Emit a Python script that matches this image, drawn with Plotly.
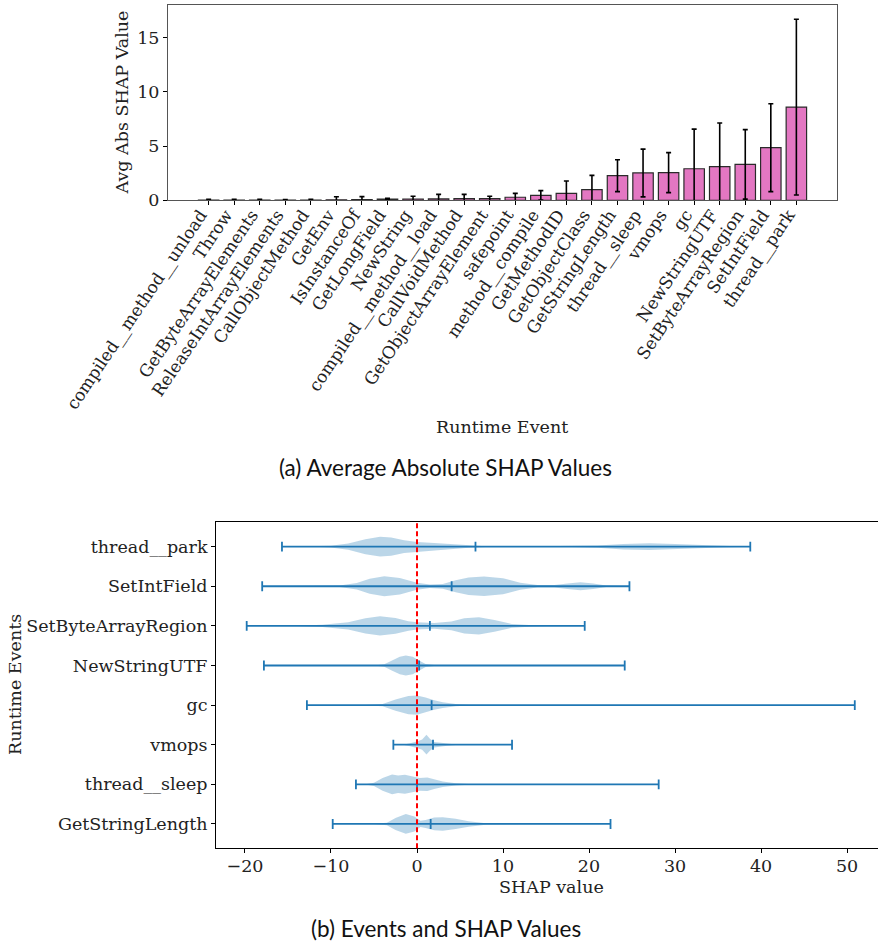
import plotly.graph_objects as go

# ---------------- (a) bar chart data ----------------
bar_events = ["compiled__method__unload", "Throw", "GetByteArrayElements", "ReleaseIntArrayElements",
              "CallObjectMethod", "GetEnv", "IsInstanceOf", "GetLongField", "NewString",
              "compiled__method__load", "CallVoidMethod", "GetObjectArrayElement", "safepoint",
              "method__compile", "GetMethodID", "GetObjectClass", "GetStringLength", "thread__sleep",
              "vmops", "gc", "NewStringUTF", "SetByteArrayRegion", "SetIntField", "thread__park"]
bar_means = [0.01, 0.01, 0.01, 0.02, 0.02, 0.05, 0.07, 0.10, 0.12, 0.13, 0.15, 0.15, 0.28,
             0.46, 0.64, 0.98, 2.27, 2.52, 2.55, 2.91, 3.10, 3.31, 4.85, 8.59]
bar_stds = [0.08, 0.08, 0.08, 0.05, 0.08, 0.28, 0.27, 0.08, 0.25, 0.42, 0.40, 0.22, 0.36,
            0.43, 1.14, 1.32, 1.47, 2.20, 1.84, 3.65, 4.02, 3.20, 4.05, 8.10]
bar_yticks = [0, 5, 10, 15]

# ---------------- (b) violin data ----------------
vio_events = ["GetStringLength", "thread__sleep", "vmops", "gc",
              "NewStringUTF", "SetByteArrayRegion", "SetIntField", "thread__park"]
vio_min = [-9.8, -7.1, -2.75, -12.8, -17.8, -19.8, -18.0, -15.7]
vio_max = [22.5, 28.1, 11.05, 50.9, 24.15, 19.5, 24.7, 38.75]
vio_mean = [1.59, 0.0, 1.86, 1.7, 0.25, 1.5, 4.03, 6.8]
vio_xticks = [-20, -10, 0, 10, 20, 30, 40, 50]

# density outlines (x, relative half-width 0..1)
getstringlength_x = [-9.8, -5, -3.5, -2.5, -1.3, -0.3, 0.4, 1, 2, 3, 4.5, 6, 8, 10, 22.5]
getstringlength_w = [0.0, 0.012, 0.12, 0.6, 1.0, 0.76, 0.32, 0.4, 0.64, 0.68, 0.52, 0.28, 0.08, 0.02, 0.0]
thread_sleep_x = [-7.1, -6, -5, -4, -2.9, -2.2, -1.4, -0.5, 0.3, 1.2, 2, 3, 4.5, 6, 9, 28.1]
thread_sleep_w = [0.0, 0.02, 0.16, 0.64, 1.0, 0.88, 0.96, 0.8, 0.64, 0.68, 0.48, 0.28, 0.12, 0.04, 0.012, 0.0]
vmops_x = [-2.75, -1.5, -0.8, 0, 0.6, 1.1, 1.5, 2, 2.8, 3.5, 4.5, 11.05]
vmops_w = [0.0, 0.02, 0.16, 0.32, 0.52, 1.0, 0.6, 0.28, 0.2, 0.1, 0.02, 0.0]
gc_x = [-12.8, -6, -4, -2.5, -1, 0, 1, 2, 3, 4.5, 6, 10, 50.9]
gc_w = [0.0, 0.008, 0.12, 0.56, 0.92, 0.98, 0.76, 0.48, 0.28, 0.12, 0.04, 0.008, 0.0]
newstringutf_x = [-17.8, -5, -3.8, -3, -2, -1.3, -0.5, 0.3, 1, 2, 4, 24.15]
newstringutf_w = [0.0, 0.008, 0.12, 0.48, 0.88, 1.0, 0.88, 0.48, 0.16, 0.04, 0.012, 0.0]
setbytearrayregion_x = [-19.8, -14, -11, -8, -6, -4.3, -2.5, -1, 0, 2, 4, 5.5, 7.2, 9, 11, 13, 15, 19.5]
setbytearrayregion_w = [0.0, 0.02, 0.12, 0.36, 0.76, 0.98, 0.8, 0.48, 0.36, 0.28, 0.44, 0.76, 0.88, 0.6, 0.2, 0.08, 0.04, 0.0]
setintfield_x = [-18, -12, -9, -7, -5.5, -3.8, -2, 0, 1.5, 3, 4.5, 6, 7.8, 10, 12, 14, 16, 17.5, 19, 20.5, 22, 24.7]
setintfield_w = [0.0, 0.02, 0.08, 0.32, 0.76, 1.0, 0.84, 0.36, 0.18, 0.24, 0.6, 0.88, 0.98, 0.8, 0.36, 0.12, 0.12, 0.28, 0.4, 0.28, 0.08, 0.0]
thread_park_x = [-15.7, -12, -10, -8, -6, -4.3, -3, -1.5, 0, 2, 4, 6, 8, 12, 18, 21, 24, 27, 30, 33, 36, 38.75]
thread_park_w = [0.0, 0.02, 0.08, 0.32, 0.76, 1.0, 0.92, 0.64, 0.48, 0.36, 0.24, 0.12, 0.04, 0.016, 0.04, 0.12, 0.28, 0.34, 0.28, 0.16, 0.06, 0.0]

vio_profiles = [(getstringlength_x, getstringlength_w), (thread_sleep_x, thread_sleep_w),
                (vmops_x, vmops_w), (gc_x, gc_w), (newstringutf_x, newstringutf_w),
                (setbytearrayregion_x, setbytearrayregion_w), (setintfield_x, setintfield_w),
                (thread_park_x, thread_park_w)]

# ---------------- styling ----------------
SERIF = "DejaVu Serif"
SANS = "Lato"
FS = 17.5
W, H = 878, 942
BLUE = "#1f77b4"
HALF = 0.25   # max half-width of violin body (category units)
CAP = 0.125   # half-length of violin caps


def px_x(p):
    return p / W


def px_y(p):
    return 1 - p / H


fig = go.Figure()

# (a) bars
fig.add_trace(go.Bar(
    x=list(range(len(bar_events))), y=bar_means, width=0.8,
    marker=dict(color="#e377c2", line=dict(color="#2b2b2b", width=1.2)),
    error_y=dict(type="data", array=bar_stds, visible=True, color="black", thickness=1.6, width=2.5),
    xaxis="x", yaxis="y", showlegend=False))

# (b) violin bodies
positions = list(range(1, len(vio_events) + 1))
for pos, (xs, ws) in zip(positions, vio_profiles):
    up = [pos + HALF * w for w in ws]
    dn = [pos - HALF * w for w in ws]
    fig.add_trace(go.Scatter(
        x=list(xs) + list(xs)[::-1], y=up + dn[::-1], fill="toself",
        fillcolor="rgba(31,119,180,0.3)", line=dict(width=0), mode="lines",
        xaxis="x2", yaxis="y2", showlegend=False, hoverinfo="skip"))

# (b) bars, caps and means
lx, ly = [], []
for pos, lo, hi, mu in zip(positions, vio_min, vio_max, vio_mean):
    lx += [lo, hi, None]
    ly += [pos, pos, None]
    for v in (lo, hi, mu):
        lx += [v, v, None]
        ly += [pos - CAP, pos + CAP, None]
fig.add_trace(go.Scatter(x=lx, y=ly, mode="lines", line=dict(color=BLUE, width=1.8),
                         xaxis="x2", yaxis="y2", showlegend=False, hoverinfo="skip"))

# domains (pixel-measured)
xa_dom = [px_x(168), px_x(837)]
ya_dom = [px_y(200.3), px_y(5)]
xb_dom = [px_x(216), 1.0]
yb_dom = [px_y(848.3), px_y(522.3)]

axis_common = dict(showgrid=False, zeroline=False, ticks="outside", ticklen=4,
                   tickcolor="black", tickfont=dict(family=SERIF, size=FS, color="#222"),
                   linecolor="black", linewidth=1, showline=True, automargin=False)

fig.update_layout(
    width=W, height=H, margin=dict(l=0, r=0, t=0, b=0, autoexpand=False),
    plot_bgcolor="white", paper_bgcolor="white",
    xaxis=dict(axis_common, domain=xa_dom, anchor="y", range=[-1.59, 24.59],
               tickvals=list(range(len(bar_events))), ticktext=bar_events,
               tickangle=-56, mirror=True, linecolor="#555",
               tickfont=dict(family=SERIF, size=17, color="#222"),
               ticklabelshift=-8, ticklabelstandoff=-7),
    yaxis=dict(axis_common, domain=ya_dom, anchor="x", range=[0, 18],
               tickvals=bar_yticks, mirror=True, linecolor="#555"),
    xaxis2=dict(axis_common, domain=xb_dom, anchor="y2", range=[-23.37, 53.6],
                tickvals=vio_xticks, ticktext=["\u221220", "\u221210", "0", "10", "20", "30", "40", "50"],
                mirror=True, ticklabelstandoff=-2),
    yaxis2=dict(axis_common, domain=yb_dom, anchor="x2", range=[0.385, 8.615],
                tickvals=positions, ticktext=vio_events, mirror=False),
)

fig.add_shape(type="line", xref="x2", yref="y2 domain", x0=0, x1=0, y0=0, y1=1,
              line=dict(color="red", width=2, dash="5px,3px"))

ann = [
    dict(text="Avg Abs SHAP Value", x=px_x(121), y=px_y(102.5), textangle=-90, font=dict(family=SERIF, size=FS)),
    dict(text="Runtime Event", x=px_x(502.5), y=px_y(427), font=dict(family=SERIF, size=FS)),
    dict(text="(a) Average Absolute SHAP Values", x=px_x(445.5), y=px_y(467), font=dict(family=SANS, size=22.5)),
    dict(text="Runtime Events", x=px_x(15), y=px_y(685), textangle=-90, font=dict(family=SERIF, size=FS)),
    dict(text="SHAP value", x=px_x(551), y=px_y(887), font=dict(family=SERIF, size=FS)),
    dict(text="(b) Events and SHAP Values", x=px_x(446), y=px_y(928), font=dict(family=SANS, size=22.5)),
]
for a in ann:
    fig.add_annotation(xref="paper", yref="paper", showarrow=False, xanchor="center", yanchor="middle",
                       font_color="#222" if a["font"]["family"] == SERIF else "#111", **a)

fig.write_html("out.html", config={"displayModeBar": False},
               post_script="document.body.style.margin='0';document.body.style.overflow='hidden';")
